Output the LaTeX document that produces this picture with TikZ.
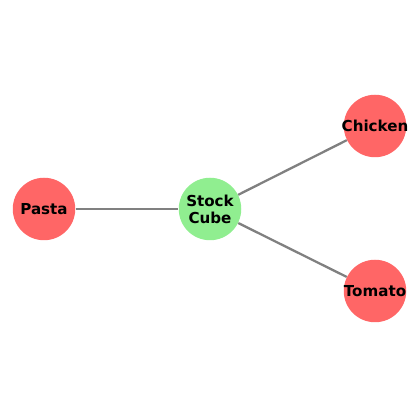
\documentclass[tikz,border=0pt]{standalone}
\usepackage{fontspec}
\setmainfont{DejaVu Sans}
\definecolor{rojo}{RGB}{255,102,102}
\definecolor{verde}{RGB}{144,238,144}
\begin{document}
\begin{tikzpicture}[
        nodo/.style={circle, minimum size=1.25cm, inner sep=0pt, fill=#1},
        etiqueta/.style={font=\fontsize{8.6}{9.8}\selectfont\bfseries, align=center},
        arista/.style={draw=gray, line width=1.3pt}
    ]
        \useasboundingbox (0,0) rectangle (8.38,8.38);
        \node[nodo=rojo, label={[etiqueta]center:Pasta}] (pasta) at (0.88,4.20) {};
        \node[nodo=verde, label={[etiqueta]center:Stock\\Cube}] (stock) at (4.20,4.20) {};
        \node[nodo=rojo, label={[etiqueta]center:Chicken}] (chicken) at (7.50,5.86) {};
        \node[nodo=rojo, label={[etiqueta]center:Tomato}] (tomato) at (7.50,2.56) {};
        \draw[arista] (pasta) -- (stock);
        \draw[arista] (stock) -- (chicken);
        \draw[arista] (stock) -- (tomato);
    \end{tikzpicture}
\end{document}
